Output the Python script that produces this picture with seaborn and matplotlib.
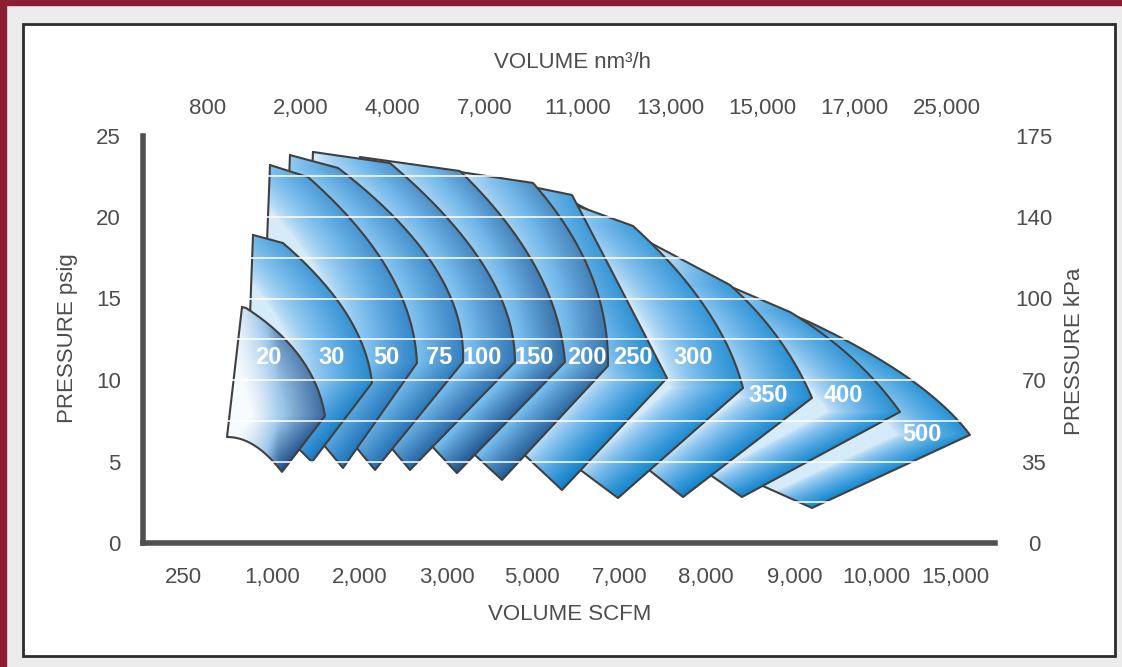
import numpy as np
import matplotlib
matplotlib.use('Agg')
import matplotlib.pyplot as plt
from matplotlib.patches import Polygon, Rectangle
import seaborn as sns


# Seaborn style first, fonts after it (set_style resets the family).
sns.set_style('white')
plt.rcParams['font.family'] = ['Liberation Sans Narrow', 'Liberation Sans', 'DejaVu Sans']

# x = position on the SCFM scale (0 = 250 ... 9 = 15,000), y = psig
sizes = ['20', '30', '50', '75', '100', '150', '200', '250', '300', '350', '400', '500']
top_left = [(0.688, 14.48), (0.816, 18.90), (1.014, 23.19), (1.247, 23.80), (1.515, 23.99), (2.063, 23.68),
            (2.529, 23.31), (3.112, 22.88), (3.695, 22.39), (4.394, 21.35), (5.326, 18.10), (6.026, 16.44)]
shoulder = [(0.734, 14.42), (1.166, 18.40), (1.457, 22.45), (1.807, 23.01), (2.413, 23.31), (3.228, 22.82),
            (4.079, 22.09), (4.534, 21.35), (5.245, 19.45), (6.375, 15.83), (7.075, 14.17), (7.249, 13.68)]
arc_mid = [(1.364, 11.41), (1.900, 14.11), (2.389, 16.75), (2.925, 16.99), (3.508, 16.99), (4.103, 16.99),
           (4.744, 16.63), (5.093, 15.71), (6.084, 14.48), (6.935, 12.58), (7.797, 11.35), (8.438, 10.18)]
nose = [(1.655, 7.79), (2.203, 9.82), (2.727, 11.04), (3.263, 11.10), (3.869, 11.10), (4.452, 11.10),
        (4.953, 10.86), (5.641, 10.12), (6.527, 9.51), (7.331, 8.90), (8.357, 8.04), (9.172, 6.63)]
bottom = [(1.154, 4.36), (1.503, 4.97), (1.865, 4.60), (2.238, 4.48), (2.646, 4.48), (3.193, 4.29),
          (3.718, 3.87), (4.417, 3.25), (5.070, 2.76), (5.828, 2.82), (6.515, 2.82), (7.331, 2.15)]
bottom_left = [(0.513, 6.50), (0.746, 8.96), (0.921, 10.55), (1.154, 11.35), (1.422, 12.09), (1.946, 11.35),
               (2.529, 9.63), (3.112, 9.69), (3.695, 8.16), (4.394, 8.83), (5.093, 8.04), (5.793, 5.77)]
bottom_bow = [1.1, 0, 0, 0, 0, 0, 0, 0, 0, 0, 0, 0]
dark = ['#1f5089', '#127ac4', '#1f75bc', '#226fb2', '#2566a5', '#1f5690',
        '#225c96', '#0f7fc8', '#1385cd', '#1083cc', '#1385cd', '#1088cf']

scfm_labels = ['250', '1,000', '2,000', '3,000', '5,000', '7,000', '8,000', '9,000', '10,000', '15,000']
nm3h_labels = ['800', '2,000', '4,000', '7,000', '11,000', '13,000', '15,000', '17,000', '25,000']
psig_ticks = [0, 5, 10, 15, 20, 25]
kpa_labels = ['0', '35', '70', '100', '140', '175']

# label anchors (layout only)
label_xy = [(0.991, 11.35), (1.737, 11.35), (2.366, 11.35), (2.984, 11.35), (3.485, 11.35), (4.091, 11.35),
            (4.709, 11.35), (5.245, 11.35), (5.944, 11.35), (6.818, 9.02), (7.692, 9.02), (8.613, 6.63)]
scfm_pos = [0, 1.037, 2.063, 3.077, 4.068, 5.093, 6.096, 7.133, 8.077, 9.0]
nm3h_pos = np.linspace(0.291, 8.904, len(nm3h_labels))

W, H = 1122, 667
TEXT = '#4d4d4d'
FS = 16


def outline(i):
    tl, s, m, n, b, bl = (np.array(a[i], float) for a in
                          (top_left, shoulder, arc_mid, nose, bottom, bottom_left))
    c = 2 * m - 0.5 * (s + n)
    t = np.linspace(0, 1, 80)[:, None]
    arc = (1 - t) ** 2 * s + 2 * t * (1 - t) * c + t ** 2 * n
    cb = 0.5 * (b + bl) + np.array([0, bottom_bow[i]])
    low = (1 - t) ** 2 * b + 2 * t * (1 - t) * cb + t ** 2 * bl
    pts = np.vstack([tl, arc, low, tl])
    return pts, arc


def draw_fan(ax, i, z):
    pts, arc = outline(i)
    x0, y0 = pts.min(axis=0)
    x1, y1 = pts.max(axis=0)
    gx = np.linspace(x0, x1, 300)
    gy = np.linspace(y0, y1, 300)
    X, Y = np.meshgrid(gx, gy)

    # shade grows towards the right-hand edge (arc then lower flank)
    edge = np.vstack([arc, bottom[i]])[::-1]
    xr = np.interp(gy, edge[:, 1], edge[:, 0])
    d = np.clip(1 - (xr[:, None] - X) / 0.85, 0, 1) ** 0.7
    d *= 0.7 + 0.3 * (y1 - Y) / (y1 - y0)
    if i == 0:
        d *= np.clip((X - x0) / 0.6, 0, 1)
        cols = ['#f7fbfe', '#9cc6ea', dark[i]]
    else:
        cols = ['#d6ebfa', '#72b8ea', dark[i]]

    cmap = sns.blend_palette(cols, as_cmap=True)
    im = ax.imshow(d, extent=(x0, x1, y0, y1), origin='lower', aspect='auto',
                   cmap=cmap, vmin=0, vmax=1, zorder=z, interpolation='bilinear')
    clip = Polygon(pts, closed=True, transform=ax.transData)
    im.set_clip_path(clip)
    sns.lineplot(x=pts[:, 0], y=pts[:, 1], sort=False, estimator=None, color='#404040',
                 lw=1.5, ax=ax, zorder=z + 0.5)


fig = plt.figure(figsize=(W / 100, H / 100), dpi=100, facecolor='#ececec')
fig.patches.append(Rectangle((0, 1 - 5 / H), 1, 5 / H, transform=fig.transFigure,
                             color='#8c1d33', zorder=-3))
fig.patches.append(Rectangle((0, 0), 6 / W, 1, transform=fig.transFigure, color='#8c1d33', zorder=-3))
fig.patches.append(Rectangle((23 / W, (H - 656) / H), (1115 - 23) / W, (656 - 24) / H,
                             transform=fig.transFigure, fc='white', ec='#2b2b2b', lw=2, zorder=-2))

ax = fig.add_axes([143 / W, 124 / H, 852 / W, 407.5 / H])
ax.set_facecolor('none')

# biggest fan at the back, smallest in front
for k, i in enumerate(range(len(sizes) - 1, -1, -1)):
    draw_fan(ax, i, 2 + k)

ax.hlines(np.arange(2.5, 23, 2.5), 0.49, 9.4, colors='white', lw=1.4, alpha=0.8, zorder=40)

for (lx, ly), s in zip(label_xy, sizes):
    ax.text(lx, ly, s, color='white', fontsize=17, fontweight='bold',
            ha='center', va='center', zorder=50)

ax.set_xlim(-0.466, 9.464)
ax.set_ylim(0, 25)
ax.set_xticks(scfm_pos)
ax.set_xticklabels(scfm_labels)
ax.set_yticks(psig_ticks)
ax.tick_params(axis='x', length=0, labelsize=FS, colors=TEXT, pad=17)
ax.tick_params(axis='y', length=0, labelsize=FS, colors=TEXT, pad=16)
for side in ['top', 'right']:
    ax.spines[side].set_visible(False)
for side in ['left', 'bottom']:
    ax.spines[side].set_color('#505050')
    ax.spines[side].set_linewidth(4)

axt = ax.twiny()
axt.set_xlim(ax.get_xlim())
axt.set_xticks(nm3h_pos)
axt.set_xticklabels(nm3h_labels)
axt.tick_params(axis='x', length=0, labelsize=FS, colors=TEXT, pad=12)

axr = ax.twinx()
axr.set_ylim(0, 25)
axr.set_yticks(psig_ticks)
axr.set_yticklabels(kpa_labels)
axr.tick_params(axis='y', length=0, labelsize=FS, colors=TEXT, pad=28)
for lab in axr.get_yticklabels():
    lab.set_horizontalalignment('center')
for a in (axt, axr):
    for sp in a.spines.values():
        sp.set_visible(False)

fig.text(68 / W, 1 - 338 / H, 'PRESSURE psig', rotation=90, ha='center', va='center', fontsize=FS, color=TEXT)
fig.text(1075 / W, 1 - 351 / H, 'PRESSURE kPa', rotation=90, ha='center', va='center', fontsize=FS, color=TEXT)
fig.text(573 / W, 1 - 62 / H, 'VOLUME nm³/h', ha='center', va='center', fontsize=FS, color=TEXT)
fig.text(570 / W, 1 - 615 / H, 'VOLUME SCFM', ha='center', va='center', fontsize=FS, color=TEXT)

fig.savefig('out.png', dpi=100, facecolor=fig.get_facecolor())
